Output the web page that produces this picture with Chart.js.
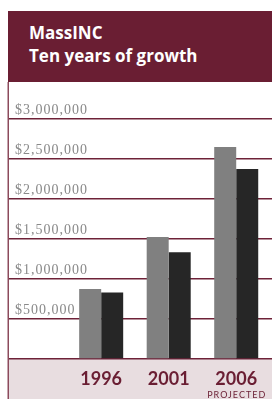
<!DOCTYPE html>
<html>
<head>
<meta charset="utf-8">
<script src="https://cdn.jsdelivr.net/npm/chart.js@4.4.1/dist/chart.umd.min.js"></script>
<style>
    body { margin: 0; background: #fff; width: 272px; height: 399px; position: relative; overflow: hidden; }
    #head {
        position: absolute; left: 8px; top: 11px; width: 264px; height: 71px;
        background: #6a1e33; color: #fff;
        font: 700 17px "Open Sans", sans-serif; line-height: 23px;
        box-sizing: border-box; padding: 10px 0 0 21px;
    }
    #wrap { position: absolute; left: 0; top: 82px; width: 272px; height: 317px; }
</style>
</head>
<body>
<div id="head">MassINC<br>Ten years of growth</div>
<div id="wrap"><canvas id="myChart"></canvas></div>
<script>
//! DATA
const years = [1996, 2001, 2006];
const yearNotes = ['', '', 'PROJECTED'];
const seriesA = [875000, 1525000, 2650000];   // grey bars
const seriesB = [830000, 1335000, 2375000];   // black bars
const yTicks = [0, 500000, 1000000, 1500000, 2000000, 2500000, 3000000];

const maroon = '#6a1e33';

//* band, left rule, letter spacing of the money labels and "PROJECTED" note
const decor = {
    id: 'decor',
    afterLayout(chart) {
        const y = chart.scales.y;
        if (y._spaced) return;
        const orig = y.drawLabels.bind(y);
        y.drawLabels = area => {
            chart.ctx.save();
            chart.ctx.letterSpacing = '1px';
            orig(area);
            chart.ctx.restore();
        };
        y._spaced = true;
    },
    beforeDraw(chart) {
        const ctx = chart.ctx;
        const area = chart.chartArea;
        ctx.save();
        ctx.fillStyle = '#e8dde0';
        ctx.fillRect(8, area.bottom, chart.width - 8, chart.height - area.bottom);
        ctx.restore();
    },
    afterDraw(chart) {
        const ctx = chart.ctx;
        const x = chart.scales.x;
        ctx.save();
        ctx.strokeStyle = '#8c4a5c';
        ctx.lineWidth = 1.5;
        ctx.beginPath();
        ctx.moveTo(8.25, 0);
        ctx.lineTo(8.25, chart.height);
        ctx.stroke();
        ctx.fillStyle = maroon;
        ctx.font = '9px Lato, sans-serif';
        ctx.letterSpacing = '1px';
        ctx.textAlign = 'center';
        ctx.textBaseline = 'alphabetic';
        years.forEach((yr, i) => {
            if (yearNotes[i]) ctx.fillText(yearNotes[i], x.getPixelForValue(yr) + 0.5, chart.height - 1);
        });
        ctx.restore();
    }
};

const data = {
    datasets: [{
        data: years.map((yr, i) => ({ x: yr, y: seriesA[i] })),
        backgroundColor: '#808080'
    }, {
        data: years.map((yr, i) => ({ x: yr, y: seriesB[i] })),
        backgroundColor: '#262626'
    }]
};

const config = {
    type: 'bar',
    data,
    options: {
        responsive: true,
        maintainAspectRatio: false,
        animation: false,
        layout: { padding: { top: 37, left: 0, right: 0, bottom: 0 } },
        plugins: { legend: { display: false }, tooltip: { enabled: false } },
        datasets: { bar: { barPercentage: 1, categoryPercentage: 0.652 } },
        scales: {
            x: {
                type: 'linear',
                offset: false,
                min: 1989.1,
                max: 2008.65,
                afterBuildTicks: s => { s.ticks = years.map(v => ({ value: v })); },
                afterFit: s => { s.height = 40; },
                grid: { display: false, offset: false },
                border: { display: false },
                ticks: {
                    callback: v => String(v),
                    color: maroon,
                    font: { family: 'Lato', size: 18, weight: 'bold' },
                    padding: 1,
                    maxRotation: 0,
                    autoSkip: false
                }
            },
            y: {
                min: 0,
                max: 3000000,
                afterBuildTicks: s => { s.ticks = yTicks.map(v => ({ value: v })); },
                afterFit: s => { s.width = 8; },
                border: { display: false },
                grid: { color: '#6e2238', lineWidth: 1.5, drawTicks: false },
                ticks: {
                    mirror: true,
                    padding: 7,
                    labelOffset: -9,
                    color: '#8a8a8a',
                    font: { family: 'Liberation Serif', size: 14 },
                    callback: v => v === 0 ? '' : '$' + v.toLocaleString('en-US')
                }
            }
        }
    },
    plugins: [decor]
};

//! CREATE CHART
const myChart = new Chart(document.getElementById('myChart'), config);
</script>
</body>
</html>
